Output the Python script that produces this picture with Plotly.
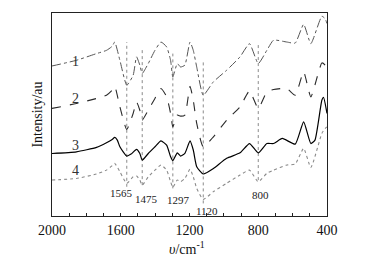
import plotly.graph_objects as go

# Wavenumber (cm^-1) and relative intensity (arbitrary units, 0-100 of plot height)
wn1 = [2000, 1858, 1741, 1683, 1650, 1635, 1605, 1565, 1528, 1508, 1489, 1475, 1440, 1401, 1366, 1333, 1310, 1297, 1271, 1252, 1227, 1197, 1178, 1158, 1120, 1061, 984, 906, 851, 800, 750, 711, 634, 585, 536, 494, 430, 411, 400]
int1 = [73.9, 76.7, 80.0, 81.6, 83.6, 85.7, 76.7, 64.4, 69.3, 78.4, 74.3, 70.2, 75.1, 81.6, 85.7, 83.3, 76.7, 68.5, 75.1, 73.4, 74.3, 85.7, 81.6, 73.4, 59.5, 66.1, 71.8, 78.4, 84.9, 75.1, 81.6, 86.6, 85.7, 85.2, 94.4, 84.9, 98.4, 97.2, 94.8]

wn2 = [2000, 1858, 1741, 1683, 1650, 1635, 1605, 1565, 1528, 1508, 1489, 1475, 1440, 1401, 1366, 1333, 1310, 1297, 1271, 1252, 1227, 1197, 1178, 1158, 1120, 1061, 984, 906, 851, 800, 750, 711, 634, 585, 536, 494, 430, 411, 400]
int2 = [53.0, 55.4, 57.9, 59.5, 62.0, 63.9, 53.8, 42.6, 50.5, 56.2, 52.1, 47.2, 52.1, 57.9, 62.8, 58.7, 50.5, 43.9, 49.7, 49.2, 49.7, 63.9, 57.0, 45.6, 34.1, 39.0, 47.2, 53.8, 61.6, 53.0, 61.1, 62.3, 62.8, 59.5, 71.0, 58.7, 75.4, 74.3, 71.8]

wn3 = [2000, 1858, 1741, 1683, 1650, 1635, 1620, 1605, 1565, 1540, 1508, 1489, 1475, 1440, 1401, 1366, 1333, 1310, 1297, 1271, 1252, 1227, 1197, 1178, 1158, 1120, 1061, 984, 906, 851, 800, 750, 711, 660, 585, 536, 494, 470, 430, 420, 400]
int3 = [30.8, 31.6, 33.8, 36.1, 37.7, 38.7, 37.4, 34.1, 29.5, 30.5, 32.8, 30.8, 27.5, 30.8, 34.1, 37.0, 34.9, 29.2, 27.2, 31.1, 29.5, 30.8, 37.0, 32.5, 24.3, 20.7, 23.4, 28.4, 31.1, 35.7, 31.1, 35.7, 35.7, 38.2, 35.4, 46.4, 35.7, 37.4, 57.0, 58.4, 50.5]

wn4 = [2000, 1858, 1741, 1683, 1650, 1635, 1605, 1565, 1528, 1508, 1489, 1475, 1440, 1401, 1366, 1333, 1310, 1297, 1271, 1252, 1227, 1197, 1178, 1158, 1120, 1061, 984, 906, 851, 800, 750, 711, 634, 585, 536, 494, 430, 411, 400]
int4 = [17.7, 18.5, 20.7, 22.6, 24.8, 25.9, 21.8, 16.1, 19.3, 19.7, 17.7, 15.2, 19.3, 22.6, 25.1, 22.6, 16.9, 14.1, 17.7, 16.9, 18.5, 23.0, 19.3, 13.6, 8.2, 12.0, 16.1, 20.2, 22.6, 16.9, 21.0, 22.6, 25.1, 25.6, 33.3, 23.9, 40.7, 43.1, 43.9]

curve_labels = ["1", "2", "3", "4"]
curve_label_int = [75.9, 57.9, 34.9, 22.3]

# marked band positions and the vertical extent of their guide lines
band_wn = [1565, 1475, 1297, 1120, 800]
band_labels = ["1565", "1475", "1297", "1120", "800"]
band_top = [85.7, 82.5, 80.0, 76.7, 84.9]
band_bottom = [14.4, 15.2, 13.6, 6.2, 17.7]
band_label_int = [11.1, 8.4, 7.9, 2.6, 10.3]
band_label_dx = [-31, 25, 32, 24, 11]

tick_vals = [2000, 1600, 1200, 800, 400]
tick_text = ["2000", "1600", "1200", "800", "400"]

FONT = "Liberation Serif, Times New Roman, serif"

fig = go.Figure()

# guide lines
for w, t, b in zip(band_wn, band_top, band_bottom):
    fig.add_trace(go.Scatter(x=[w, w], y=[b, t], mode="lines",
                             line=dict(color="#8a8a8a", width=1, dash="dot"),
                             showlegend=False, hoverinfo="skip"))

styles = [
    dict(color="#555555", width=1, dash="dashdot"),
    dict(color="#2a2a2a", width=1.1, dash="dash"),
    dict(color="#000000", width=1.2, dash="solid"),
    dict(color="#8a8a8a", width=1.1, dash="dot"),
]
for (wx, iy), st in zip([(wn1, int1), (wn2, int2), (wn3, int3), (wn4, int4)], styles):
    fig.add_trace(go.Scatter(x=wx, y=iy, mode="lines", line=dict(shape="spline", smoothing=0.5, **st),
                             showlegend=False))

annotations = []
for lab, yv in zip(curve_labels, curve_label_int):
    annotations.append(dict(x=1862, y=yv, text=lab, showarrow=False,
                            font=dict(family=FONT, size=14, color="#333333")))
for w, lab, yv, dx in zip(band_wn, band_labels, band_label_int, band_label_dx):
    annotations.append(dict(x=w - dx, y=yv, text=lab, showarrow=False,
                            font=dict(family=FONT, size=11, color="#222222")))
# x axis title
annotations.append(dict(xref="paper", yref="paper", x=0.49, y=-0.16, yanchor="middle",
                        text="<i>υ</i>/cm<sup>-1</sup>", showarrow=False,
                        font=dict(family=FONT, size=14, color="#111111")))

# the page body adds an 8px offset, so the figure is sized and margined to compensate
fig.update_layout(
    width=375, height=250,
    margin=dict(l=44, r=56, t=5, b=42),
    paper_bgcolor="white", plot_bgcolor="white",
    font=dict(family=FONT, color="#111111"),
    annotations=annotations,
    xaxis=dict(range=[2000, 400], tickvals=tick_vals, ticktext=tick_text,
               ticks="inside", ticklen=3, tickcolor="#222222",
               minor=dict(dtick=100, ticks="inside", ticklen=3, tickcolor="#222222"),
               showline=True, linecolor="#222222", linewidth=1, mirror=True,
               showgrid=False, zeroline=False, ticklabelstandoff=1,
               tickfont=dict(family=FONT, size=14, color="#111111")),
    yaxis=dict(range=[0, 100], showticklabels=False, ticks="",
               showline=True, linecolor="#222222", linewidth=1, mirror=True,
               showgrid=False, zeroline=False,
               title=dict(text="Intensity/au", standoff=5,
                          font=dict(family=FONT, size=14, color="#111111"))),
)

fig.write_html("out.html")
